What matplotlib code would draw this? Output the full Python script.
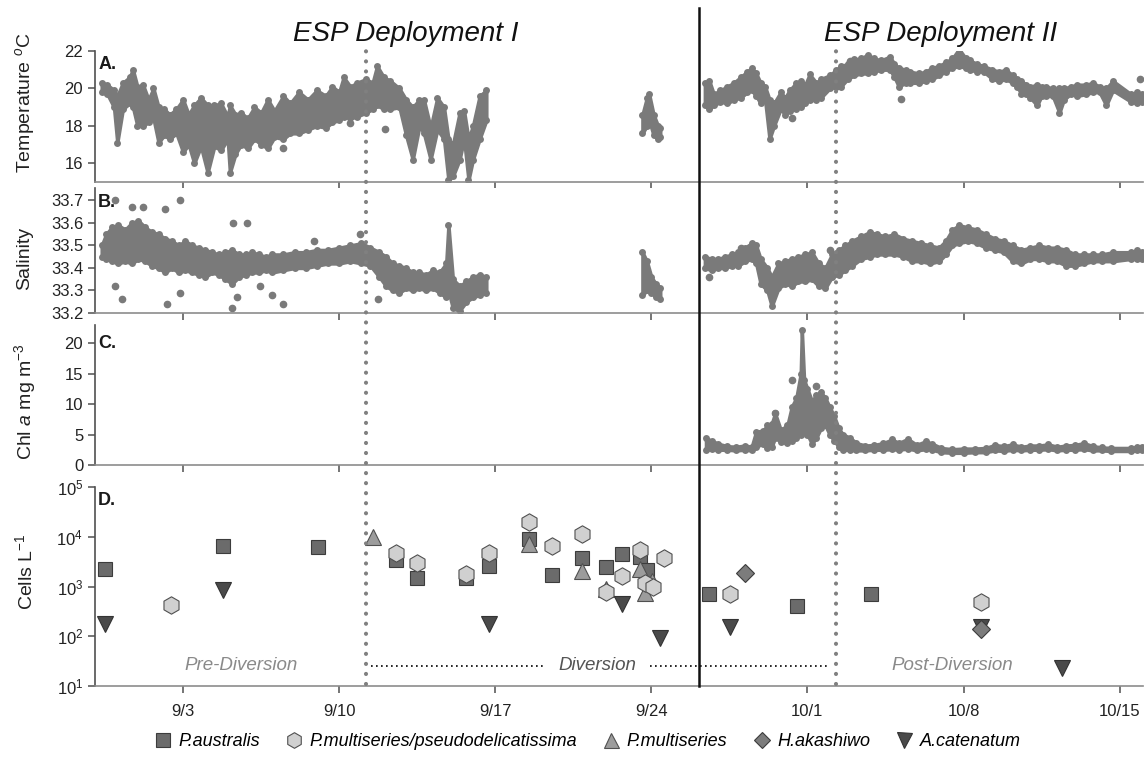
import numpy as np
import matplotlib
matplotlib.use('Agg')
import matplotlib.pyplot as plt
from matplotlib.lines import Line2D
from matplotlib.transforms import blended_transform_factory

plt.rcParams['font.family'] = ['Liberation Sans', 'DejaVu Sans']
plt.rcParams['mathtext.fontset'] = 'custom'
plt.rcParams['mathtext.rm'] = 'Liberation Sans'
plt.rcParams['mathtext.it'] = 'Liberation Sans:italic'

# x axis = days after 1 Sep (9/3 -> 2, 10/1 -> 30)
tick_days = [2, 9, 16, 23, 30, 37, 44]
tick_labels = ['9/3', '9/10', '9/17', '9/24', '10/1', '10/8', '10/15']

# --- temperature envelope ---
temp_t = [-1.65, -1.4, -1.1, -0.95, -0.7, -0.4, -0.25, -0.05, 0.2, 0.45, 0.67, 0.9, 1.15, 1.4, 1.7,
          2.0, 2.25, 2.5, 2.8, 3.1, 3.4, 3.7, 4.0, 4.1, 4.35, 4.6, 4.9, 5.2, 5.5, 5.8, 6.1, 6.5, 6.8,
          7.2, 7.6, 8.0, 8.4, 8.7, 9.0, 9.2, 9.5, 9.8, 10.2, 10.5, 10.7, 11.0, 11.3, 11.7, 12.0, 12.3,
          12.6, 12.8, 13.1, 13.4, 13.7, 13.9, 14.1, 14.4, 14.6, 14.8, 15.0, 15.3, 15.6,
          22.6, 22.8, 22.9, 23.1, 23.3, 23.4,
          25.4, 25.6, 25.8, 26.1, 26.4, 26.7, 27.0, 27.3, 27.5, 27.7, 27.9, 28.1, 28.3, 28.5, 28.8,
          29.0, 29.2, 29.5, 29.7, 29.9, 30.1, 30.4, 30.6, 31.0, 31.3, 31.5, 31.8, 32.1, 32.4, 32.7,
          33.0, 33.3, 33.7, 33.9, 34.1, 34.4, 34.6, 35.0, 35.3, 35.6, 35.9, 36.2, 36.5, 36.8, 37.1,
          37.3, 37.6, 37.9, 38.3, 38.6, 38.9, 39.2, 39.4, 39.6, 39.8, 40.0, 40.3, 40.5, 40.7, 41.0,
          41.3, 41.5, 41.8, 42.1, 42.5, 42.8, 43.1, 43.4, 43.7,
          44.5, 44.8, 45.0]
temp_lo = [19.8, 19.7, 19.0, 17.1, 18.9, 19.2, 19.0, 18.0, 18.0, 18.2, 18.4, 17.1, 17.5, 17.3, 17.6,
           16.6, 17.0, 16.0, 16.9, 15.5, 16.9, 16.7, 17.3, 15.5, 16.5, 17.0, 16.8, 17.3, 17.0, 16.8, 17.4,
           17.3, 17.6, 17.6, 17.8, 18.0, 17.9, 18.2, 18.3, 18.5, 18.4, 18.5, 18.7, 18.9, 19.1, 18.9,
           18.9, 19.0, 17.5, 16.2, 18.0, 17.6, 16.2, 17.8, 17.3, 15.1, 15.3, 16.2, 17.3, 15.1, 16.2,
           17.3, 18.3,
           17.6, 18.0, 18.3, 17.5, 17.3, 17.4,
           19.1, 18.9, 19.1, 19.3, 19.2, 19.4, 19.5, 19.8, 19.9, 19.6, 19.2, 19.4, 17.3, 18.0, 18.9,
           18.6, 18.8, 18.9, 19.0, 19.2, 19.4, 19.4, 19.5, 20.0, 20.1, 20.1, 20.5, 20.7, 20.8, 20.8,
           20.9, 21.0, 21.0, 20.6, 20.1, 20.3, 20.3, 20.3, 20.4, 20.5, 20.7, 20.9, 21.1, 21.2, 21.1,
           21.0, 20.9, 20.9, 20.5, 20.4, 20.5, 20.3, 20.1, 19.7, 19.7, 19.5, 19.1, 19.6, 19.6, 19.6,
           18.7, 19.4, 19.7, 19.6, 19.7, 19.8, 19.8, 19.1, 19.9,
           19.3, 19.2, 19.3]
temp_hi = [20.3, 20.2, 19.9, 19.6, 20.3, 20.6, 21.0, 20.1, 20.2, 19.4, 20.0, 19.0, 18.9, 18.6, 18.9,
           19.4, 18.6, 19.1, 19.5, 19.1, 19.1, 19.2, 18.5, 19.1, 18.6, 18.7, 18.4, 19.0, 18.7, 19.4, 18.8,
           19.6, 19.2, 19.8, 19.4, 19.9, 19.6, 20.1, 19.8, 20.6, 20.1, 20.3, 20.5, 20.3, 21.2, 20.6,
           20.4, 20.0, 19.4, 19.0, 19.4, 19.4, 17.9, 19.5, 19.0, 17.3, 17.0, 18.7, 18.8, 17.3, 18.0,
           19.6, 19.9,
           18.6, 19.5, 19.7, 18.6, 18.0, 17.9,
           20.3, 20.4, 19.7, 19.9, 20.1, 20.3, 20.6, 20.9, 21.1, 20.8, 20.3, 20.1, 19.4, 19.2, 19.8,
           19.5, 19.9, 20.3, 20.4, 20.2, 20.75, 20.3, 20.5, 20.7, 21.0, 21.2, 21.3, 21.55, 21.6, 21.8,
           21.6, 21.5, 21.7, 21.3, 21.1, 21.0, 20.9, 20.8, 20.9, 21.1, 21.2, 21.4, 21.6, 22.1, 21.6,
           21.5, 21.3, 21.2, 21.0, 20.9, 21.0, 20.7, 20.5, 20.4, 20.2, 20.1, 20.2, 20.1, 20.1, 20.0,
           20.0, 20.0, 20.1, 20.2, 20.2, 20.3, 20.1, 20.0, 20.4,
           19.7, 19.8, 19.7]
temp_out_t = [6.5, 9.5, 11.06, 29.3, 31.9, 34.2, 44.9]
temp_out_v = [16.83, 18.17, 17.81, 18.43, 21.47, 19.42, 20.5]

# --- salinity envelope ---
sal_t = [-1.65, -1.45, -1.2, -0.9, -0.6, -0.3, 0.0, 0.3, 0.6, 0.9, 1.2, 1.5, 1.8, 2.1, 2.4, 2.7, 3.0,
         3.3, 3.6, 3.9, 4.2, 4.5, 4.8, 5.1, 5.4, 5.7, 6.0, 6.5, 7.0, 7.5, 8.0, 8.5, 9.0, 9.5, 10.0,
         10.4, 10.8, 11.1, 11.4, 11.7, 12.0, 12.3, 12.6, 12.9, 13.2, 13.5, 13.8, 13.9, 14.1, 14.4,
         14.7, 15.0, 15.3, 15.6,
         22.6, 22.8, 23.0, 23.2, 23.4,
         25.4, 25.7, 26.0, 26.3, 26.6, 26.9, 27.2, 27.5, 27.7, 27.9, 28.2, 28.4, 28.7, 29.0, 29.3,
         29.6, 29.9, 30.2, 30.5, 30.8, 31.1, 31.4, 31.7, 32.0, 32.4, 32.8, 33.1, 33.5, 33.9, 34.3,
         34.7, 35.1, 35.5, 35.9, 36.2, 36.5, 36.8, 37.2, 37.6, 38.0, 38.4, 38.8, 39.2, 39.6, 40.0,
         40.4, 40.8, 41.2, 41.6, 42.0, 42.4, 42.8, 43.2, 43.7,
         44.5, 44.8, 45.0]
sal_lo = [33.45, 33.44, 33.43, 33.42, 33.43, 33.42, 33.44, 33.43, 33.41, 33.40, 33.38, 33.40, 33.38,
          33.39, 33.38, 33.37, 33.36, 33.38, 33.37, 33.35, 33.33, 33.36, 33.37, 33.38, 33.38, 33.39,
          33.38, 33.39, 33.40, 33.40, 33.41, 33.42, 33.42, 33.43, 33.42, 33.41, 33.36, 33.32, 33.30,
          33.29, 33.31, 33.30, 33.31, 33.30, 33.31, 33.29, 33.27, 33.30, 33.22, 33.21, 33.25, 33.27,
          33.28, 33.29,
          33.28, 33.30, 33.29, 33.27, 33.26,
          33.40, 33.39, 33.40, 33.40, 33.41, 33.41, 33.43, 33.44, 33.42, 33.33, 33.30, 33.23, 33.31,
          33.33, 33.32, 33.34, 33.34, 33.35, 33.32, 33.31, 33.36, 33.37, 33.39, 33.41, 33.44, 33.45,
          33.46, 33.46, 33.46, 33.45, 33.43, 33.43, 33.42, 33.43, 33.46, 33.50, 33.51, 33.52, 33.51,
          33.49, 33.48, 33.47, 33.43, 33.42, 33.44, 33.44, 33.43, 33.43, 33.41, 33.41, 33.42, 33.43,
          33.43, 33.43,
          33.44, 33.44, 33.44]
sal_hi = [33.50, 33.55, 33.58, 33.59, 33.57, 33.60, 33.61, 33.58, 33.56, 33.55, 33.53, 33.52, 33.50,
          33.52, 33.50, 33.49, 33.48, 33.47, 33.46, 33.47, 33.48, 33.46, 33.46, 33.47, 33.46, 33.45,
          33.46, 33.46, 33.47, 33.47, 33.48, 33.48, 33.49, 33.50, 33.51, 33.49, 33.47, 33.45, 33.42,
          33.41, 33.40, 33.38, 33.38, 33.37, 33.39, 33.38, 33.42, 33.59, 33.35, 33.32, 33.34, 33.36,
          33.37, 33.36,
          33.47, 33.43, 33.36, 33.33, 33.31,
          33.45, 33.44, 33.44, 33.45, 33.46, 33.47, 33.49, 33.51, 33.50, 33.44, 33.40, 33.36, 33.42,
          33.43, 33.44, 33.45, 33.46, 33.47, 33.42, 33.40, 33.46, 33.48, 33.50, 33.52, 33.54, 33.56,
          33.55, 33.54, 33.55, 33.53, 33.52, 33.51, 33.50, 33.49, 33.52, 33.57, 33.59, 33.58, 33.57,
          33.55, 33.53, 33.52, 33.50, 33.48, 33.49, 33.50, 33.49, 33.49, 33.48, 33.46, 33.46, 33.46,
          33.46, 33.47,
          33.47, 33.48, 33.47]
sal_out_t = [-1.05, -0.3, 0.22, 1.2, 1.87, 4.26, 4.85, 7.85, 9.94, -1.05, -0.75, 1.27, 4.18, 6.5,
             1.87, 4.4, 10.76, 5.45, 5.98, 25.6, 27.0, 31.0]
sal_out_v = [33.70, 33.67, 33.67, 33.66, 33.70, 33.60, 33.60, 33.52, 33.55, 33.32, 33.26, 33.24,
             33.22, 33.24, 33.29, 33.27, 33.26, 33.32, 33.28, 33.36, 33.49, 33.48]

# --- chlorophyll envelope (deployment II only) ---
chl_t = [25.45, 25.7, 26.0, 26.4, 26.8, 27.2, 27.5, 27.7, 28.0, 28.2, 28.4, 28.55, 28.8, 29.1, 29.3,
         29.5, 29.7, 29.75, 29.85, 30.0, 30.2, 30.4, 30.6, 30.8, 31.0, 31.2, 31.4, 31.6, 31.9, 32.2,
         32.6, 33.0, 33.4, 33.8, 34.1, 34.5, 34.9, 35.3, 35.6, 36.0, 36.5, 37.0, 37.5, 38.0, 38.4,
         38.8, 39.2, 39.6, 40.0, 40.4, 40.8, 41.2, 41.6, 42.0, 42.4, 42.8, 43.2, 43.6,
         44.5, 44.8, 45.0]
chl_lo = [2.5, 2.6, 2.5, 2.5, 2.4, 2.5, 2.4, 3.0, 3.5, 2.8, 3.0, 4.5, 3.8, 3.6, 4.0, 4.5, 5.0, 5.5,
          6.0, 5.0, 3.5, 4.5, 6.0, 6.5, 5.0, 4.0, 3.0, 2.5, 2.5, 2.4, 2.4, 2.5, 2.5, 2.6, 2.5, 2.7,
          2.4, 2.6, 2.5, 2.1, 2.0, 2.0, 2.1, 2.1, 2.4, 2.3, 2.5, 2.4, 2.5, 2.5, 2.6, 2.4, 2.5, 2.5,
          2.6, 2.4, 2.4, 2.3,
          2.3, 2.4, 2.4]
chl_hi = [4.4, 4.0, 3.5, 3.1, 3.0, 3.2, 3.0, 5.5, 5.6, 6.5, 6.8, 8.5, 5.8, 6.5, 9.6, 11.0, 15.0, 22.2,
          14.0, 12.5, 10.5, 11.5, 12.0, 11.0, 9.5, 8.0, 6.0, 5.0, 4.5, 3.6, 3.2, 3.3, 3.6, 4.2, 3.6,
          4.3, 3.3, 3.9, 3.5, 2.8, 2.6, 2.7, 2.7, 2.8, 3.3, 3.1, 3.4, 3.0, 3.2, 3.2, 3.4, 3.0, 3.2,
          3.3, 3.6, 3.1, 2.9, 2.8,
          2.8, 3.0, 2.9]
chl_out_t = [29.3, 30.4, 28.55]
chl_out_v = [14.0, 12.9, 8.5]

# --- cell counts ---
aus_t = [-1.5, 3.81, 8.07, 11.54, 12.48, 14.69, 15.74, 17.53, 18.53, 19.9, 20.95, 21.7, 22.49,
         22.79, 25.59, 29.55, 32.85]
aus_v = [2300, 6500, 6300, 3400, 1450, 1450, 2600, 9000, 1700, 3700, 2500, 4500, 4000, 2150, 720,
         410, 720]
pmpd_t = [1.46, 11.54, 12.48, 14.69, 15.74, 17.53, 18.53, 19.9, 20.95, 21.7, 22.49, 22.72, 23.09,
          23.57, 26.53, 37.77]
pmpd_v = [420, 4700, 3000, 1800, 4700, 19500, 6500, 11300, 780, 1650, 5400, 1150, 980, 3700, 720, 490]
pm_t = [10.5, 17.53, 19.9, 20.95, 22.49, 22.72, 23.05]
pm_v = [10000, 7100, 2050, 900, 2300, 730, 1300]
hak_t = [27.2, 37.77]
hak_v = [1900, 138]
acat_t = [-1.5, 3.81, 15.74, 21.7, 23.39, 26.53, 37.77, 41.43]
acat_v = [180, 870, 180, 450, 93, 155, 155, 23]

diversion_start = 10.2
diversion_end = 31.27
deploy_split = 25.14

pt_color = '#7a7a7a'


def draw_band(ax, t, lo, hi):
    t = np.asarray(t)
    lo = np.asarray(lo)
    hi = np.asarray(hi)
    breaks = np.where(np.diff(t) > 1.0)[0] + 1
    for seg in np.split(np.arange(len(t)), breaks):
        ax.fill_between(t[seg], lo[seg], hi[seg], color=pt_color, edgecolor=pt_color,
                        lw=2.5, joinstyle='round', zorder=2)
    # dotted texture along the edges, like the raw sample points
    ax.plot(t, lo, 'o', color=pt_color, ms=5, mew=0, zorder=2)
    ax.plot(t, hi, 'o', color=pt_color, ms=5, mew=0, zorder=2)


fig = plt.figure(figsize=(11.47, 7.59), dpi=100)
left, width = 95 / 1147, 1048 / 1147
ax_a = fig.add_axes([left, 1 - 182 / 759, width, 131 / 759])
ax_b = fig.add_axes([left, 1 - 313 / 759, width, 125 / 759])
ax_c = fig.add_axes([left, 1 - 465 / 759, width, 140 / 759])
ax_d = fig.add_axes([left, 1 - 686 / 759, width, 199 / 759])

for ax in [ax_a, ax_b, ax_c, ax_d]:
    ax.set_xlim(-1.95, 45.05)
    ax.set_xticks(tick_days)
    ax.spines['top'].set_visible(False)
    ax.spines['right'].set_visible(False)
    ax.spines['bottom'].set_color('#8c8c8c')
    ax.spines['left'].set_color('#505050')
    ax.spines['bottom'].set_linewidth(1.2)
    ax.spines['left'].set_linewidth(1.2)
    ax.tick_params(direction='out', length=5, width=1.1, color='#505050', labelsize=12,
                   labelcolor='#222222')
    if ax is not ax_d:
        ax.set_xticklabels([])

ax_d.set_xticklabels(tick_labels)
ax_d.tick_params(axis='x', pad=8)

# A. temperature
draw_band(ax_a, temp_t, temp_lo, temp_hi)
ax_a.plot(temp_out_t, temp_out_v, 'o', color=pt_color, ms=4.5, zorder=2)
ax_a.set_ylim(15.0, 22.0)
ax_a.set_yticks([16, 18, 20, 22])

# B. salinity
draw_band(ax_b, sal_t, sal_lo, sal_hi)
ax_b.plot(sal_out_t, sal_out_v, 'o', color=pt_color, ms=4.5, zorder=2)
ax_b.set_ylim(33.2, 33.755)
ax_b.set_yticks([33.2, 33.3, 33.4, 33.5, 33.6, 33.7])

# C. chlorophyll
draw_band(ax_c, chl_t, chl_lo, chl_hi)
ax_c.plot(chl_out_t, chl_out_v, 'o', color=pt_color, ms=4.5, zorder=2)
ax_c.set_ylim(0, 23)
ax_c.set_yticks([0, 5, 10, 15, 20])

# D. cells
ax_d.set_yscale('log')
ax_d.set_ylim(10, 1e5)
ax_d.yaxis.set_minor_locator(matplotlib.ticker.NullLocator())
h1, = ax_d.plot(aus_t, aus_v, 's', ms=10.5, mfc='#6b6b6b', mec='#3c3c3c', mew=0.8, zorder=3)
h3, = ax_d.plot(pm_t, pm_v, '^', ms=12, mfc='#9c9c9c', mec='#505050', mew=0.8, zorder=4)
h2, = ax_d.plot(pmpd_t, pmpd_v, 'h', ms=12.5, mfc='#d0d0d0', mec='#505050', mew=0.8, zorder=5)
h5, = ax_d.plot(acat_t, acat_v, 'v', ms=12, mfc='#4a4a4a', mec='#333333', mew=0.8, zorder=5)
h4, = ax_d.plot(hak_t, hak_v, 'D', ms=9.5, mfc='#7c7c7c', mec='#3c3c3c', mew=0.8, zorder=6)

ax_d.text(4.58, 25.4, 'Pre-Diversion', style='italic', color='#8a8a8a', fontsize=13.5,
          ha='center', va='center')
ax_d.text(20.6, 25.4, 'Diversion', style='italic', color='#555555', fontsize=13.5,
          ha='center', va='center')
ax_d.text(36.5, 25.4, 'Post-Diversion', style='italic', color='#8a8a8a', fontsize=13.5,
          ha='center', va='center')
ax_d.plot([10.45, 18.2], [25.4, 25.4], color='black', ls=(0, (1, 2)), lw=1.2)
ax_d.plot([22.95, 30.9], [25.4, 25.4], color='black', ls=(0, (1, 2)), lw=1.2)

# panel letters
for ax, lab, yy in [(ax_a, 'A.', 0.96), (ax_b, 'B.', 0.95), (ax_c, 'C.', 0.93), (ax_d, 'D.', 0.975)]:
    ax.text(0.003, yy, lab, transform=ax.transAxes, va='top', ha='left',
            fontweight='bold', fontsize=13, color='#1a1a1a')

# y labels
fig.text(25 / 1147, 1 - 103 / 759, 'Temperature $^{o}$C', rotation=90, ha='center', va='center',
         fontsize=14, color='#222222')
fig.text(25 / 1147, 1 - 258 / 759, 'Salinity', rotation=90, ha='center', va='center',
         fontsize=14, color='#222222')
fig.text(25 / 1147, 1 - 402 / 759, 'Chl $\\it{a}$ mg m$^{-3}$', rotation=90, ha='center',
         va='center', fontsize=14, color='#222222')
fig.text(25 / 1147, 1 - 572 / 759, 'Cells L$^{-1}$', rotation=90, ha='center', va='center',
         fontsize=14, color='#222222')

# titles
fig.text(406 / 1147, 1 - 34 / 759, 'ESP Deployment I', style='italic', fontsize=20,
         ha='center', va='center', color='#111111')
fig.text(941 / 1147, 1 - 34 / 759, 'ESP Deployment II', style='italic', fontsize=20,
         ha='center', va='center', color='#111111')

# vertical lines spanning panels
trans = blended_transform_factory(ax_d.transData, fig.transFigure)
y_bot = 1 - 686 / 759
for xd in [diversion_start, diversion_end]:
    ax_d.add_line(Line2D([xd, xd], [y_bot + 0.002, 1 - 51 / 759], transform=trans, clip_on=False,
                         color='#808080', lw=3, ls=(0, (0.01, 2.4)), dash_capstyle='round',
                         zorder=10))
ax_d.add_line(Line2D([deploy_split, deploy_split], [y_bot, 1 - 8 / 759], transform=trans,
                     clip_on=False, color='#111111', lw=1.8, zorder=10))

# legend
fig.legend([h1, h2, h3, h4, h5],
           ['P.australis', 'P.multiseries/pseudodelicatissima', 'P.multiseries', 'H.akashiwo',
            'A.catenatum'],
           loc='center', bbox_to_anchor=(0.512, 1 - 742 / 759), ncol=5, frameon=False,
           prop={'style': 'italic', 'size': 13}, handletextpad=0.35, columnspacing=1.4,
           handlelength=1.0, markerscale=0.9)

fig.savefig('out.png', dpi=100)
